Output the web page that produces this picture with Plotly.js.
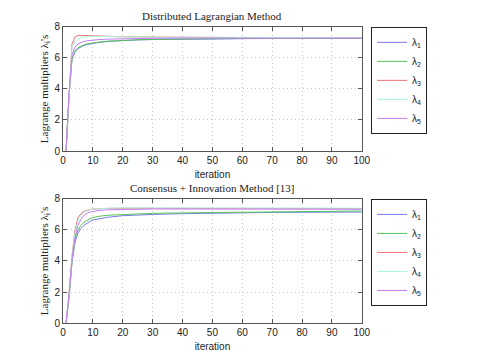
<!DOCTYPE html>
<html>
<head>
<meta charset="utf-8">
<script src="https://cdn.plot.ly/plotly-3.0.1.min.js"></script>
<style>body{margin:0;background:#fff}#chart{width:485px;height:363px}</style>
</head>
<body>
<div id="chart"></div>
<script>
// iterations
var iters = [1, 2, 3, 4, 5, 6, 7, 8, 9, 10, 12, 15, 20, 25, 30, 40, 50, 60, 70, 80, 90, 100];

// Distributed Lagrangian Method
var dl1 = [0, 3.6, 5.9, 6.4, 6.6, 6.72, 6.8, 6.86, 6.9, 6.94, 7.0, 7.06, 7.12, 7.16, 7.18, 7.21, 7.23, 7.24, 7.25, 7.25, 7.25, 7.25];
var dl2 = [0, 3.6, 5.95, 6.45, 6.65, 6.76, 6.84, 6.9, 6.94, 6.97, 7.02, 7.08, 7.14, 7.17, 7.19, 7.22, 7.24, 7.25, 7.26, 7.26, 7.26, 7.26];
var dl3 = [0, 3.8, 6.9, 7.35, 7.45, 7.45, 7.44, 7.43, 7.42, 7.41, 7.4, 7.38, 7.36, 7.35, 7.34, 7.33, 7.32, 7.31, 7.3, 7.3, 7.3, 7.3];
var dl4 = [0, 3.8, 6.7, 7.1, 7.25, 7.32, 7.36, 7.38, 7.39, 7.39, 7.39, 7.38, 7.36, 7.35, 7.34, 7.33, 7.32, 7.31, 7.3, 7.3, 7.3, 7.3];
var dl5 = [0, 3.7, 6.2, 6.7, 6.9, 7.0, 7.06, 7.1, 7.13, 7.15, 7.18, 7.21, 7.24, 7.25, 7.26, 7.27, 7.27, 7.27, 7.27, 7.27, 7.27, 7.27];

// Consensus + Innovation Method
var ci1 = [0, 1.6, 3.9, 5.2, 5.8, 6.1, 6.3, 6.45, 6.55, 6.64, 6.73, 6.82, 6.92, 6.97, 7.0, 7.05, 7.09, 7.12, 7.13, 7.14, 7.15, 7.15];
var ci2 = [0, 1.7, 4.0, 5.4, 6.0, 6.3, 6.5, 6.62, 6.72, 6.8, 6.88, 6.95, 7.0, 7.04, 7.07, 7.1, 7.12, 7.15, 7.17, 7.19, 7.21, 7.22];
var ci3 = [0, 1.9, 4.3, 6.0, 6.8, 7.05, 7.2, 7.28, 7.32, 7.35, 7.37, 7.39, 7.4, 7.4, 7.4, 7.4, 7.4, 7.39, 7.39, 7.38, 7.38, 7.38];
var ci4 = [0, 1.8, 4.2, 5.8, 6.6, 6.95, 7.15, 7.25, 7.3, 7.34, 7.37, 7.4, 7.42, 7.42, 7.42, 7.42, 7.41, 7.41, 7.4, 7.4, 7.4, 7.4];
var ci5 = [0, 1.8, 4.1, 5.5, 6.3, 6.7, 6.95, 7.08, 7.15, 7.2, 7.26, 7.3, 7.32, 7.34, 7.35, 7.35, 7.35, 7.34, 7.34, 7.33, 7.33, 7.33];

var names = ['λ<sub>1</sub>', 'λ<sub>2</sub>', 'λ<sub>3</sub>', 'λ<sub>4</sub>', 'λ<sub>5</sub>'];
var colors = ['#7b7bee', '#55c455', '#f07070', '#aaf5dc', '#c57cf7'];

var data = [];
[dl1, dl2, dl3, dl4, dl5].forEach(function (ys, i) {
    data.push({x: iters, y: ys, name: names[i], mode: 'lines', line: {color: colors[i], width: 1},
        xaxis: 'x', yaxis: 'y', legend: 'legend'});
});
[ci1, ci2, ci3, ci4, ci5].forEach(function (ys, i) {
    data.push({x: iters, y: ys, name: names[i], mode: 'lines', line: {color: colors[i], width: 1},
        xaxis: 'x2', yaxis: 'y2', legend: 'legend2'});
});

var tickFont = {family: 'Liberation Sans, Arial', size: 10, color: '#222'};
function xAxis(anchor) {
    return {anchor: anchor, domain: [0.13, 0.746], range: [0, 100], dtick: 10, ticks: 'inside', ticklen: 4,
        showline: true, mirror: 'ticks', linecolor: '#555', linewidth: 1, tickcolor: '#555',
        showgrid: true, gridcolor: '#c8c8c8', griddash: '1px,3px', zeroline: false, tickfont: tickFont,
        title: {text: 'iteration', font: tickFont, standoff: 5}};
}
function yAxis(anchor, dom) {
    return {anchor: anchor, domain: dom, range: [0, 8], dtick: 2, ticks: 'inside', ticklen: 4,
        showline: true, mirror: 'ticks', linecolor: '#555', linewidth: 1, tickcolor: '#555',
        showgrid: true, gridcolor: '#c8c8c8', griddash: '1px,3px', zeroline: false, tickfont: tickFont,
        title: {text: "Lagrange multipliers λ<sub>i</sub>'s", font: {family: 'Liberation Serif, serif', size: 11, color: '#222'}, standoff: 3}};
}
var legendBase = {x: 0.765, xanchor: 'left', yanchor: 'top', bordercolor: '#222', borderwidth: 1,
    bgcolor: '#fff', font: {family: 'Liberation Sans, Arial', size: 10, color: '#222'}, itemwidth: 30, tracegroupgap: 0};

var layout = {
    width: 485, height: 363,
    margin: {l: 0, r: 0, t: 0, b: 0},
    paper_bgcolor: '#fff', plot_bgcolor: '#fff',
    showlegend: true,
    xaxis: xAxis('y'),
    yaxis: yAxis('x', [0.584, 0.926]),
    xaxis2: xAxis('y2'),
    yaxis2: yAxis('x2', [0.11, 0.452]),
    legend: Object.assign({y: 0.926}, legendBase),
    legend2: Object.assign({y: 0.452}, legendBase),
    annotations: [
        {text: 'Distributed Lagrangian Method', xref: 'paper', yref: 'paper', x: 0.438, y: 0.956, yanchor: 'middle', showarrow: false,
            font: {family: 'Liberation Serif, serif', size: 11, color: '#222'}},
        {text: 'Consensus + Innovation Method [13]', xref: 'paper', yref: 'paper', x: 0.438, y: 0.482, yanchor: 'middle', showarrow: false,
            font: {family: 'Liberation Serif, serif', size: 11, color: '#222'}}
    ]
};

Plotly.newPlot('chart', data, layout, {displayModeBar: false, staticPlot: true});
</script>
</body>
</html>
